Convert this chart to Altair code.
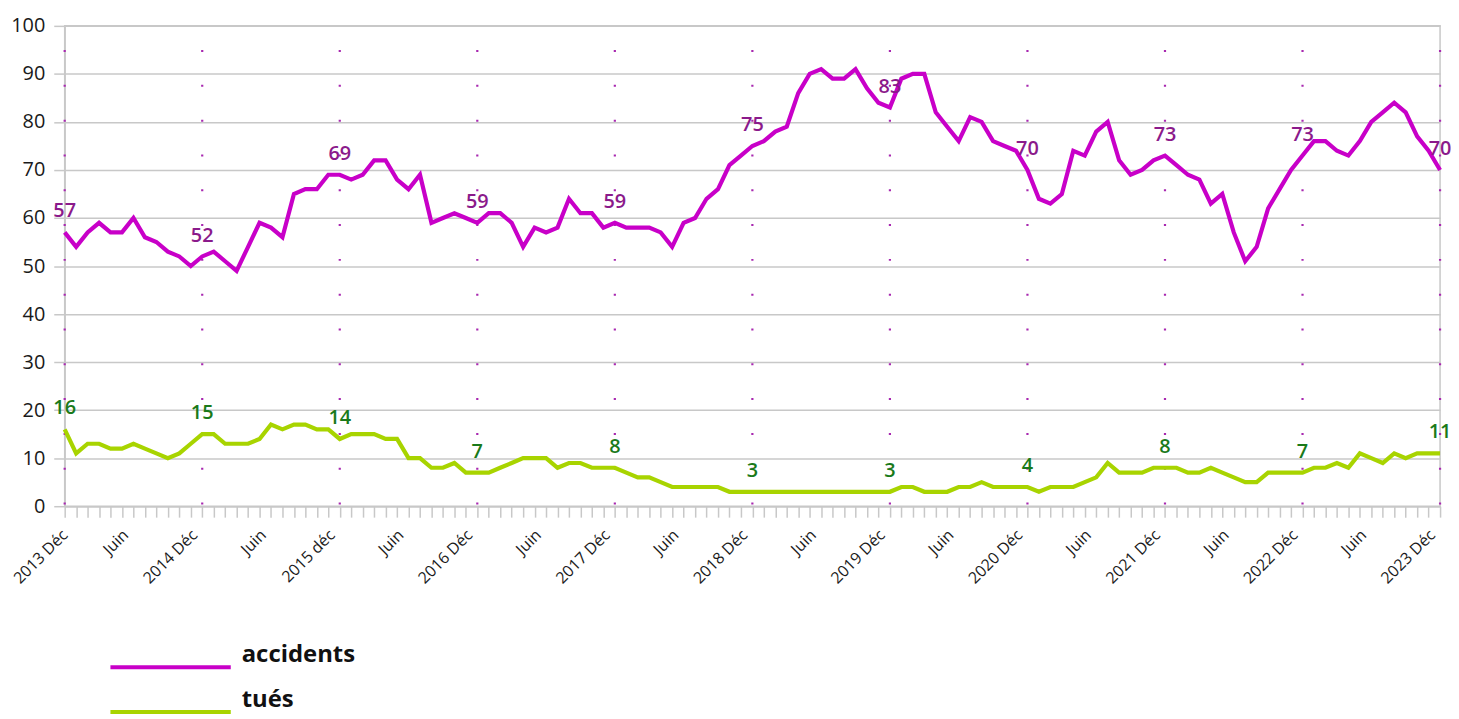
import json
import altair as alt
import pandas as pd

# Monthly values, Dec 2013 -> Dec 2023 (121 months)
accidents = [57, 54, 57, 59, 57, 57, 60, 56, 55, 53, 52, 50,
             52, 53, 51, 49, 54, 59, 58, 56, 65, 66, 66, 69,
             69, 68, 69, 72, 72, 68, 66, 69, 59, 60, 61, 60,
             59, 61, 61, 59, 54, 58, 57, 58, 64, 61, 61, 58,
             59, 58, 58, 58, 57, 54, 59, 60, 64, 66, 71, 73,
             75, 76, 78, 79, 86, 90, 91, 89, 89, 91, 87, 84,
             83, 89, 90, 90, 82, 79, 76, 81, 80, 76, 75, 74,
             70, 64, 63, 65, 74, 73, 78, 80, 72, 69, 70, 72,
             73, 71, 69, 68, 63, 65, 57, 51, 54, 62, 66, 70,
             73, 76, 76, 74, 73, 76, 80, 82, 84, 82, 77, 74,
             70]
tues = [16, 11, 13, 13, 12, 12, 13, 12, 11, 10, 11, 13,
        15, 15, 13, 13, 13, 14, 17, 16, 17, 17, 16, 16,
        14, 15, 15, 15, 14, 14, 10, 10, 8, 8, 9, 7,
        7, 7, 8, 9, 10, 10, 10, 8, 9, 9, 8, 8,
        8, 7, 6, 6, 5, 4, 4, 4, 4, 4, 3, 3,
        3, 3, 3, 3, 3, 3, 3, 3, 3, 3, 3, 3,
        3, 4, 4, 3, 3, 3, 4, 4, 5, 4, 4, 4,
        4, 3, 4, 4, 4, 5, 6, 9, 7, 7, 7, 8,
        8, 8, 7, 7, 8, 7, 6, 5, 5, 7, 7, 7,
        7, 8, 8, 9, 8, 11, 10, 9, 11, 10, 11, 11,
        11]
# labels every 6 months
x_labels = ["2013 Déc", "Juin", "2014 Déc", "Juin", "2015 déc", "Juin",
            "2016 Déc", "Juin", "2017 Déc", "Juin", "2018 Déc", "Juin",
            "2019 Déc", "Juin", "2020 Déc", "Juin", "2021 Déc", "Juin",
            "2022 Déc", "Juin", "2023 Déc"]
y_ticks = [0, 10, 20, 30, 40, 50, 60, 70, 80, 90, 100]
series_names = ["accidents", "tués"]

C_ACC = "#c800c8"
C_TUE = "#a8d400"
C_ACC_LBL = "#8b1a8b"
C_TUE_LBL = "#1a7a1a"
C_GRID = "#c8c8c8"
C_DOT = "#a828b0"
FONT = "Open Sans"

df = pd.DataFrame({"i": list(range(len(accidents))),
                   "accidents": accidents, "tues": tues})
df_dec = df[df["i"] % 12 == 0].copy()
df_dec["top"] = 100
df_dec["bottom"] = 0

W, H = 1383, 483
label_expr = ("datum.value % 6 == 0 ? " + json.dumps(x_labels, ensure_ascii=False)
              + "[datum.value / 6] : ''")

x_scale = alt.Scale(domain=[0, len(accidents) - 1], nice=False, zero=False)
y_scale = alt.Scale(domain=[0, 100], nice=False)

x_axis = alt.Axis(
    values=list(range(len(accidents))), labelExpr=label_expr, title=None,
    labelOffset={"condition": {"test": "datum.value == 0", "value": 0},
                 "value": -8},
)
y_axis = alt.Axis(values=y_ticks, title=None)


def X(field):
    return alt.X(field, type="quantitative", scale=x_scale, axis=x_axis)


def Y(field):
    return alt.Y(field, type="quantitative", scale=y_scale, axis=y_axis)


dec_rules = alt.Chart(df_dec).mark_rule(
    color=C_DOT, strokeWidth=2.2, strokeDash=[2, 33], strokeDashOffset=10.7
).encode(x=X("i"), y=Y("top"), y2="bottom:Q")

line_acc = alt.Chart(df).mark_line(color=C_ACC, strokeWidth=4.2).encode(
    x=X("i"), y=Y("accidents"))
line_tue = alt.Chart(df).mark_line(color=C_TUE, strokeWidth=4.2).encode(
    x=X("i"), y=Y("tues"))

lbl_acc = alt.Chart(df_dec).mark_text(
    color=C_ACC_LBL, font=FONT, fontSize=20, fontWeight=600, dy=-21,
    baseline="middle", align="center"
).encode(x=X("i"), y=Y("accidents"), text="accidents:Q")
lbl_tue = alt.Chart(df_dec).mark_text(
    color=C_TUE_LBL, font=FONT, fontSize=20, fontWeight=600, dy=-21,
    baseline="middle", align="center"
).encode(x=X("i"), y=Y("tues"), text="tues:Q")

# manual legend below the plot
legend_layers = []
for k, (name, col) in enumerate(zip(series_names, [C_ACC, C_TUE])):
    ldf = pd.DataFrame({"serie": [name]})
    yl = 645 + 45 * k
    legend_layers.append(
        alt.Chart(ldf).mark_rule(color=col, strokeWidth=4).encode(
            x=alt.value(46), x2=alt.value(167), y=alt.value(yl))
    )
    legend_layers.append(
        alt.Chart(ldf).mark_text(align="left", baseline="alphabetic",
                                 font=FONT, fontSize=24, fontWeight="bold",
                                 color="#111111").encode(
            x=alt.value(178), y=alt.value(yl - 5), text="serie:N")
    )

chart = alt.layer(
    dec_rules, line_acc, line_tue, lbl_acc, lbl_tue, *legend_layers
).properties(
    width=W, height=H,
    autosize=alt.AutoSizeParams(type="none"),
    padding={"left": 57, "top": 16, "right": 11, "bottom": 211},
).configure_view(
    stroke=C_GRID, strokeWidth=1.5
).configure_axisX(
    labelAngle=-45, labelAlign="right", labelBaseline="middle",
    labelPadding=15, labelOverlap=False,
    labelFontSize=16, labelFont=FONT, labelColor="#1a1a1a",
    tickSize=11, tickColor=C_GRID, tickWidth=1.5,
    domainColor=C_GRID, domainWidth=1.5, grid=False,
    labelBound=False, labelFlush=False
).configure_axisY(
    labelFontSize=20, labelFont=FONT, labelColor="#1a1a1a", labelPadding=9,
    tickSize=11, tickColor=C_GRID, tickWidth=1.5,
    domainColor=C_GRID, domainWidth=1.5,
    grid=True, gridColor=C_GRID, gridWidth=1.5
)

chart.save("out.html", embed_options={"renderer": "svg", "actions": False})
